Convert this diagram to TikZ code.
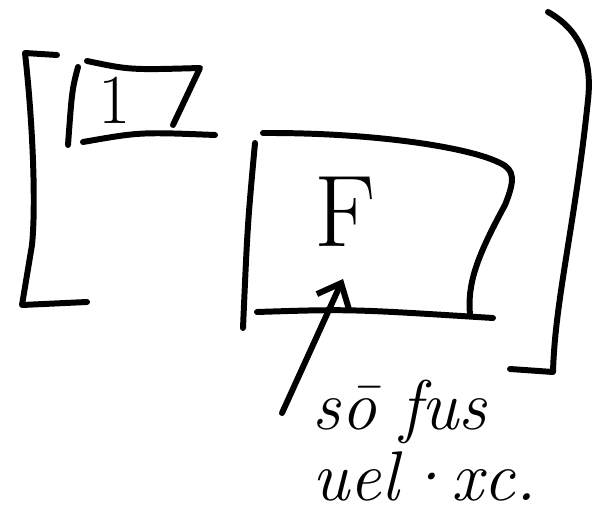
\documentclass[tikz,border=0pt]{standalone}
\usepackage{tikz}
\usetikzlibrary{arrows.meta}

\begin{document}
\begin{tikzpicture}[>={Straight Barb[length=4mm,width=7mm]}, line width=3.4pt, line cap=round, line join=round]
	\useasboundingbox (0,0) rectangle (11.98,10.5);
	%Parentesi sinistra
	\draw (1.14,9.40) -- (0.50,9.44) .. controls (0.66,8.0) and (0.72,6.4) .. (0.64,5.6) .. controls (0.56,5.0) .. (0.44,4.40) -- (1.74,4.46);
	%Riquadro 1
	\draw (1.56,9.16) .. controls (1.44,8.7) .. (1.36,7.60);
	\draw (1.74,9.28) .. controls (2.6,9.10) .. (4.00,9.14) -- (3.46,8.00);
	\draw (1.66,7.66) .. controls (2.8,7.86) .. (4.30,7.80);
	\node [font=\fontsize{40}{40}\selectfont] (one) at (2.30,8.50) {1};
	%Riquadro F
	\draw (5.10,7.64) .. controls (4.95,6.0) .. (4.86,3.94);
	\draw (5.26,7.84) .. controls (7.5,7.85) and (9.4,7.55) .. (10.0,7.24) .. controls (10.3,7.1) and (10.3,6.9) .. (10.1,6.4) .. controls (9.5,5.3) and (9.35,4.8) .. (9.40,4.20);
	\draw (5.14,4.26) .. controls (7.0,4.32) .. (9.86,4.14);
	\node [font=\fontsize{58}{58}\selectfont] (ef) at (6.90,6.26) {F};
	%Nota
	\node [font=\fontsize{40}{40}\selectfont\itshape, align=left, anchor=north west, inner sep=0pt] (note) at (6.20,2.95) {s\=o fus\\uel·xc.};
	\coordinate (tail) at (5.64,2.24);
	\coordinate (tip) at (6.86,4.92);
	\draw [->] (tail) -- (tip);
	%Parentesi destra
	\draw (10.96,10.26) .. controls (11.6,9.9) and (11.85,9.3) .. (11.76,8.5) .. controls (11.5,6.0) and (11.1,4.5) .. (11.06,3.06) -- (10.20,3.12);
\end{tikzpicture}
\end{document}
